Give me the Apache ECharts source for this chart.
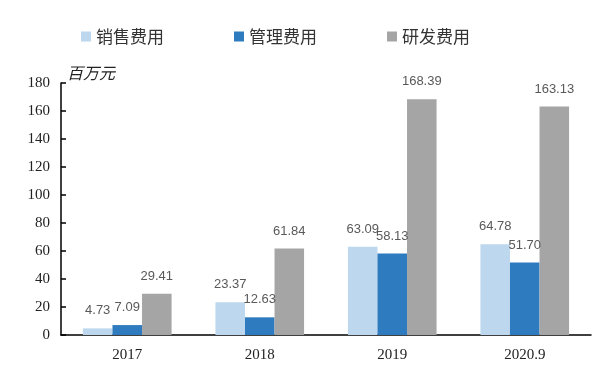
<!DOCTYPE html>
<html>
<head>
<meta charset="utf-8">
<script src="https://cdn.jsdelivr.net/npm/echarts@6/dist/echarts.min.js"></script>
<style>html,body{margin:0;padding:0;background:#fff;}#c{width:613px;height:376px;}</style>
</head>
<body>
<div id="c"></div>
<script>
const categories = ['2017', '2018', '2019', '2020.9'];
const salesExpense = [4.73, 23.37, 63.09, 64.78];
const adminExpense = [7.09, 12.63, 58.13, 51.70];
const rdExpense = [29.41, 61.84, 168.39, 163.13];
const seriesNames = ['销售费用', '管理费用', '研发费用'];
const colors = ['#BDD7EE', '#2E7BBF', '#A5A5A5'];

const chart = echarts.init(document.getElementById('c'));
const labelCfg = {
  show: true, position: 'top', distance: 11,
  color: '#595959', fontSize: 13, fontFamily: 'Liberation Sans, Arial, sans-serif',
  formatter: p => p.value.toFixed(2)
};
function mk(name, data, color) {
  return { name, type: 'bar', data, barWidth: '22.3%', barGap: '0%',
    itemStyle: { color }, label: labelCfg };
}
chart.setOption({
  animation: false,
  color: colors,
  legend: {
    left: 76, top: 23, itemWidth: 10, itemHeight: 10, itemGap: 70,
    icon: 'rect',
    textStyle: { fontSize: 17, color: '#333', fontFamily: 'Noto Sans CJK SC' },
    data: seriesNames
  },
  grid: { left: 61, right: 22, top: 83, bottom: 41, containLabel: false },
  xAxis: {
    type: 'category', data: categories,
    axisLine: { lineStyle: { color: '#000', width: 1.5 } },
    axisTick: { inside: true, length: 5, lineStyle: { color: '#000', width: 1.5 } },
    axisLabel: { color: '#222', fontSize: 15, fontFamily: 'Liberation Serif, Times New Roman, serif', margin: 13 }
  },
  yAxis: {
    type: 'value', min: 0, max: 180, interval: 20,
    name: '百万元', nameLocation: 'end', nameGap: 2,
    nameTextStyle: { align: 'left', padding: [0, 0, 0, 6], fontSize: 16, color: '#222', fontFamily: 'Noto Sans CJK SC', fontStyle: 'italic' },
    splitLine: { show: false },
    axisLine: { show: true, lineStyle: { color: '#000', width: 1.5 } },
    axisTick: { show: true, inside: true, length: 5, lineStyle: { color: '#000', width: 1.5 } },
    axisLabel: { color: '#222', fontSize: 15, fontFamily: 'Liberation Serif, Times New Roman, serif', margin: 11 }
  },
  series: [
    mk(seriesNames[0], salesExpense, colors[0]),
    mk(seriesNames[1], adminExpense, colors[1]),
    mk(seriesNames[2], rdExpense, colors[2])
  ]
});
</script>
</body>
</html>
